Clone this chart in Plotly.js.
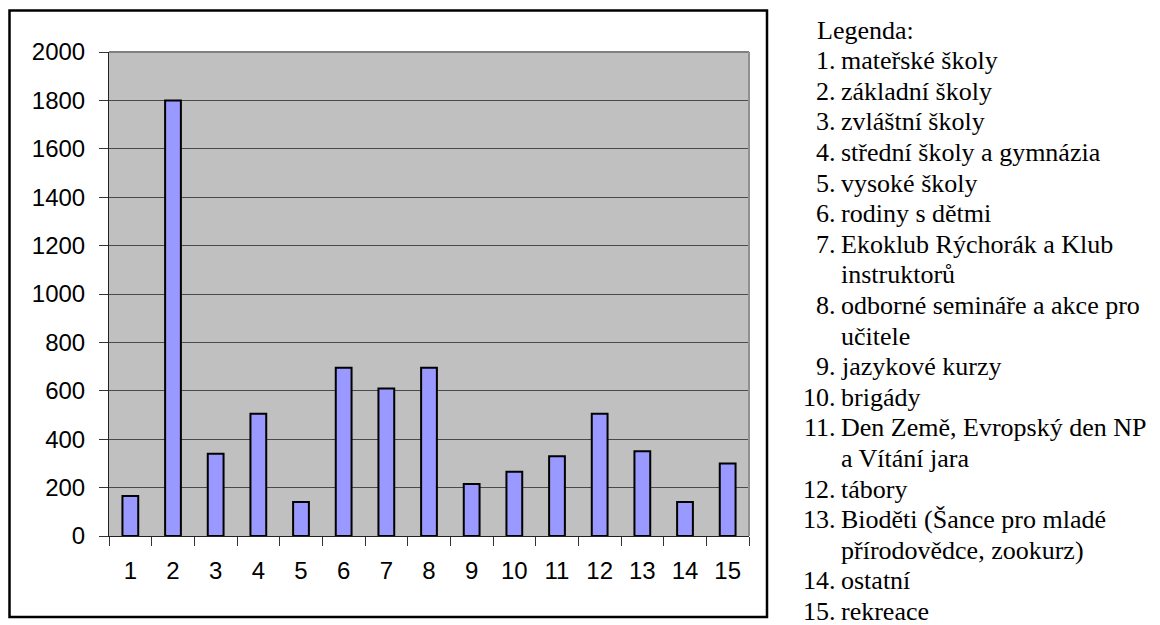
<!DOCTYPE html>
<html>
<head>
<meta charset="utf-8">
<script src="https://cdn.plot.ly/plotly-3.0.1.min.js"></script>
<style>
html,body{margin:0;padding:0;background:#fff;}
#chart{width:1160px;height:625px;}
#chart text.annotation-text{font-family:'Liberation Serif' !important;}
#chart .xtick text, #chart .ytick text{font-family:'Liberation Sans' !important;}
</style>
</head>
<body>
<div id="chart"></div>
<script>
// Data
const categories = ['1','2','3','4','5','6','7','8','9','10','11','12','13','14','15'];
const values = [165, 1800, 340, 505, 140, 695, 610, 695, 215, 265, 330, 505, 350, 140, 300];
const legendTitle = 'Legenda:';
const legendNumbers = ['1.','2.','3.','4.','5.','6.','7.','8.','9.','10.','11.','12.','13.','14.','15.'];
const legendLabels = [
  ['mateřské školy'],
  ['základní školy'],
  ['zvláštní školy'],
  ['střední školy a gymnázia'],
  ['vysoké školy'],
  ['rodiny s dětmi'],
  ['Ekoklub Rýchorák a Klub', 'instruktorů'],
  ['odborné semináře a akce pro', 'učitele'],
  ['jazykové kurzy'],
  ['brigády'],
  ['Den Země, Evropský den NP', 'a Vítání jara'],
  ['tábory'],
  ['Bioděti (Šance pro mladé', 'přírodovědce, zookurz)'],
  ['ostatní'],
  ['rekreace']
];

// Layout geometry (pixels)
const W = 1160, H = 625;
const PL = 109, PR = 749, PT = 52, PB = 536;
const px2x = p => (p - PL) / (PR - PL);
const px2y = p => (PB - p) / (PB - PT);

const serifFont = () => ({family: 'Liberation Serif', size: 26, color: '#000000'});
const sansFont = () => ({family: 'Liberation Sans', size: 24, color: '#000000'});

const annotations = [];
const lineH = 30.6, firstY = 30;
const numRight = 836, textLeft = 841;
let line = 0;
annotations.push({
  xref: 'paper', yref: 'paper', x: px2x(817), y: px2y(firstY + lineH * line),
  xanchor: 'left', yanchor: 'middle', text: legendTitle, showarrow: false,
  font: serifFont(), borderpad: 0, borderwidth: 0
});
line++;
legendLabels.forEach((parts, i) => {
  annotations.push({
    xref: 'paper', yref: 'paper', x: px2x(numRight), y: px2y(firstY + lineH * line),
    xanchor: 'right', yanchor: 'middle', text: legendNumbers[i], showarrow: false,
    font: serifFont(), borderpad: 0, borderwidth: 0
  });
  parts.forEach(t => {
    annotations.push({
      xref: 'paper', yref: 'paper', x: px2x(textLeft), y: px2y(firstY + lineH * line),
      xanchor: 'left', yanchor: 'middle', text: t, showarrow: false,
      font: serifFont(), borderpad: 0, borderwidth: 0
    });
    line++;
  });
});

const shapes = [
  {type: 'rect', xref: 'paper', yref: 'paper', x0: px2x(9.5), x1: px2x(767), y0: px2y(617), y1: px2y(10.5),
   line: {color: '#000', width: 2.5}, fillcolor: 'rgba(0,0,0,0)', layer: 'above'},
  {type: 'line', xref: 'paper', yref: 'paper', x0: 0, x1: 1, y0: 1, y1: 1, line: {color: '#808080', width: 2}, layer: 'above'},
  {type: 'line', xref: 'paper', yref: 'paper', x0: 1, x1: 1, y0: 0, y1: 1, line: {color: '#909090', width: 2}, layer: 'above'}
];

const trace = {
  type: 'bar', x: categories, y: values,
  marker: {color: '#9999FF', line: {color: '#000', width: 2}},
  hoverinfo: 'x+y'
};

const layout = {
  width: W, height: H,
  margin: {l: PL, r: W - PR, t: PT, b: H - PB, pad: 0},
  paper_bgcolor: '#fff', plot_bgcolor: '#C0C0C0',
  showlegend: false, bargap: 0.63,
  font: sansFont(),
  xaxis: {
    type: 'category', tickson: 'boundaries', ticks: 'outside', ticklen: 9, tickwidth: 1, tickcolor: '#333',
    showline: true, linecolor: '#222', linewidth: 1, showgrid: false, zeroline: false,
    ticklabelstandoff: 13, tickfont: sansFont()
  },
  yaxis: {
    range: [0, 2000], dtick: 200, tick0: 0, ticks: 'outside', ticklen: 9, tickwidth: 1, tickcolor: '#333',
    showline: true, linecolor: '#222', linewidth: 1, showgrid: true, gridcolor: '#4a4a4a', gridwidth: 1,
    zeroline: false, ticklabelstandoff: 9, tickfont: sansFont()
  },
  annotations: annotations,
  shapes: shapes
};

Plotly.newPlot('chart', [trace], layout, {staticPlot: true, displayModeBar: false});
</script>
</body>
</html>
